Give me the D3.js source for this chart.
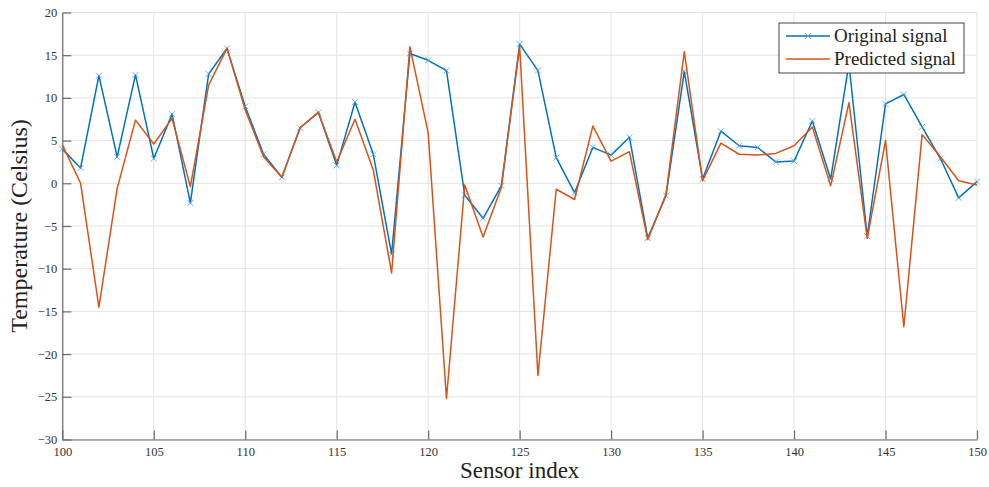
<!DOCTYPE html>
<html>
<head>
<meta charset="utf-8">
<script src="https://cdn.jsdelivr.net/npm/d3@7/dist/d3.min.js"></script>
<style>
  body { margin: 0; background: #fff; }
  svg { display: block; }
  text { font-family: "Liberation Serif", "DejaVu Serif", serif; }
</style>
</head>
<body>
<div id="chart"></div>
<script>
// donnees
var sensorIndex = d3.range(100, 151);
var originalSignal = [
  4.0, 1.8, 12.6, 3.1, 12.7, 2.9, 8.1, -2.3, 12.8, 15.8,
  9.0, 3.4, 0.7, 6.5, 8.3, 2.1, 9.5, 3.4, -8.3, 15.2,
  14.4, 13.2, -1.4, -4.1, -0.3, 16.3, 13.2, 3.0, -1.1, 4.2,
  3.3, 5.4, -6.4, -1.45, 13.1, 0.5, 6.1, 4.4, 4.2, 2.5,
  2.6, 7.3, 0.5, 14.0, -6.2, 9.3, 10.4, 6.6, 2.9, -1.7,
  0.2
];
var predictedSignal = [
  4.5, 0.0, -14.5, -0.6, 7.4, 4.6, 7.6, -0.4, 11.5, 15.8,
  8.6, 3.1, 0.7, 6.5, 8.3, 2.5, 7.5, 1.55, -10.5, 16.0,
  5.9, -25.2, -0.2, -6.3, -0.5, 16.0, -22.5, -0.7, -1.9, 6.7,
  2.6, 3.7, -6.6, -1.3, 15.4, 0.3, 4.7, 3.4, 3.3, 3.5,
  4.4, 6.6, -0.3, 9.45, -6.45, 5.0, -16.8, 5.7, 3.1, 0.3,
  -0.2
];
var xTicks = d3.range(100, 151, 5);
var yTicks = d3.range(-30, 21, 5);

var W = 989, H = 487;
var margin = {top: 12.5, right: 12, bottom: 47.5, left: 62.3};
var width = W - margin.left - margin.right;
var height = H - margin.top - margin.bottom;

var svg = d3.select("#chart").append("svg")
  .attr("width", W).attr("height", H);

var g = svg.append("g")
  .attr("transform", "translate(" + margin.left + "," + margin.top + ")");

var x = d3.scaleLinear().domain([100, 150]).range([0, width]);
var y = d3.scaleLinear().domain([-30, 20]).range([height, 0]);

// grille
g.append("g").selectAll("line").data(xTicks).enter().append("line")
  .attr("x1", function(d) { return x(d); }).attr("x2", function(d) { return x(d); })
  .attr("y1", 0).attr("y2", height)
  .attr("stroke", "#e3e3e3").attr("stroke-width", 1);
g.append("g").selectAll("line").data(yTicks).enter().append("line")
  .attr("y1", function(d) { return y(d); }).attr("y2", function(d) { return y(d); })
  .attr("x1", 0).attr("x2", width)
  .attr("stroke", "#e3e3e3").attr("stroke-width", 1);

// axes
var xAxis = d3.axisBottom(x).tickValues(xTicks).tickSizeInner(-9).tickSizeOuter(0).tickPadding(14);
var yAxis = d3.axisLeft(y).tickValues(yTicks).tickSizeInner(-9).tickSizeOuter(0).tickPadding(14);

var gx = g.append("g").attr("transform", "translate(0," + height + ")").call(xAxis);
var gy = g.append("g").call(yAxis);
[gx, gy].forEach(function(a) {
  a.select(".domain").attr("stroke", "#6b6b6b").attr("stroke-width", 1.2);
  a.selectAll(".tick line").attr("stroke", "#6b6b6b").attr("stroke-width", 1.2);
  a.selectAll(".tick text").attr("fill", "#333").attr("font-size", 12.5)
    .attr("font-family", "Liberation Serif, serif");
});
gx.selectAll(".tick text").attr("dy", "0.2em");
gy.selectAll(".tick text").attr("x", -5);

// courbes
var line = d3.line()
  .x(function(d, i) { return x(sensorIndex[i]); })
  .y(function(d) { return y(d); });

g.append("path").datum(originalSignal)
  .attr("fill", "none").attr("stroke", "#0072BD").attr("stroke-width", 1.5)
  .attr("stroke-linejoin", "round").attr("d", line);

// marqueurs x
var s = 3;
g.append("g").selectAll("path").data(originalSignal).enter().append("path")
  .attr("d", function(d, i) {
    var cx = x(sensorIndex[i]), cy = y(d);
    return "M" + (cx - s) + "," + (cy - s) + "L" + (cx + s) + "," + (cy + s) +
           "M" + (cx - s) + "," + (cy + s) + "L" + (cx + s) + "," + (cy - s);
  })
  .attr("stroke", "#4a9bd4").attr("stroke-width", 0.8).attr("fill", "none");

g.append("path").datum(predictedSignal)
  .attr("fill", "none").attr("stroke", "#D95319").attr("stroke-width", 1.5)
  .attr("stroke-linejoin", "round").attr("d", line);

// titres des axes
svg.append("text")
  .attr("x", margin.left + width / 2).attr("y", 478)
  .attr("text-anchor", "middle").attr("font-size", 23).attr("fill", "#222")
  .text("Sensor index");
svg.append("text")
  .attr("transform", "translate(27," + (margin.top + height / 2) + ") rotate(-90)")
  .attr("text-anchor", "middle").attr("font-size", 24).attr("fill", "#222")
  .text("Temperature (Celsius)");

// legende
var leg = svg.append("g").attr("transform", "translate(779,23)");
leg.append("rect").attr("width", 185).attr("height", 50)
  .attr("fill", "#fff").attr("stroke", "#444").attr("stroke-width", 1);
var items = [
  {label: "Original signal", color: "#0072BD", marker: true},
  {label: "Predicted signal", color: "#D95319", marker: false}
];
items.forEach(function(it, k) {
  var yy = 13 + k * 23;
  leg.append("line").attr("x1", 7).attr("x2", 51).attr("y1", yy).attr("y2", yy)
    .attr("stroke", it.color).attr("stroke-width", 1.5);
  if (it.marker) {
    leg.append("path")
      .attr("d", "M" + (29 - s) + "," + (yy - s) + "L" + (29 + s) + "," + (yy + s) +
                 "M" + (29 - s) + "," + (yy + s) + "L" + (29 + s) + "," + (yy - s))
      .attr("stroke", "#4a9bd4").attr("stroke-width", 0.8);
  }
  leg.append("text").attr("x", 55).attr("y", yy + 6)
    .attr("font-size", 19).attr("fill", "#222").text(it.label);
});
</script>
</body>
</html>
